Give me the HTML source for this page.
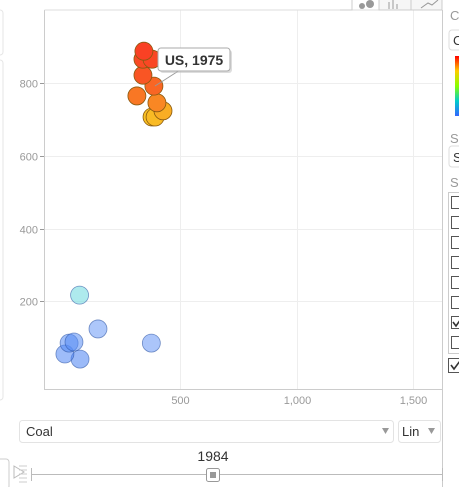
<!DOCTYPE html>
<html><head><meta charset="utf-8">
<style>
html,body{margin:0;padding:0;background:#fff;width:459px;height:487px;overflow:hidden;font-family:"Liberation Sans",Arial,sans-serif;}
svg{position:absolute;left:0;top:0}
</style></head><body>
<svg id="chart" width="459" height="487" xmlns="http://www.w3.org/2000/svg">
  <rect x="-6" y="10" width="9" height="45" rx="3" fill="#fff" stroke="#e6e6e6"/>
  <rect x="-6" y="60" width="9" height="340" rx="3" fill="#fff" stroke="#e6e6e6"/>
  <g id="grid"></g>
  <g id="bubbles"></g>
  <path d="M44.5,10 V389.5 H442" fill="none" stroke="#ccc"/>
  <path d="M44.5,10 H442" fill="none" stroke="#ddd"/>
  <g id="ticks" font-size="11" fill="#999"></g>
  <g>
    <line x1="155" y1="86" x2="180" y2="70" stroke="#999"/>
    <rect x="160" y="50" width="72" height="23" rx="3" fill="#bbb" opacity="0.5"/>
    <rect x="158" y="48" width="72" height="23" rx="3" fill="#fff" stroke="#aaa"/>
    <text x="194" y="65" text-anchor="middle" font-size="14" font-weight="bold" fill="#333">US, 1975</text>
  </g>
  <g>
    <path d="M340,10 H352 V0" fill="none" stroke="#ccc"/>
    <g>
      <circle cx="362" cy="6" r="3" fill="#999"/><circle cx="370" cy="4" r="4" fill="#999"/>
    </g>
    <g>
      <rect x="379" y="-2" width="32" height="12" fill="#f6f6f6" stroke="#ccc"/>
      <path d="M389,9V2 M393,9V0 M397,9V4" stroke="#999"/>
    </g>
    <g>
      <rect x="411" y="-2" width="31" height="12" fill="#f6f6f6" stroke="#ccc"/>
      <path d="M421,8 L428,3 L432,5 L438,0" fill="none" stroke="#999"/>
    </g>
  </g>
  <g>
    <line x1="442.5" y1="10" x2="442.5" y2="487" stroke="#ccc"/>
    <text x="450" y="20" font-size="13" fill="#999">C</text>
    <rect x="449" y="30" width="20" height="20" rx="3" fill="#fff" stroke="#ddd"/>
    <text x="453" y="45" font-size="13" fill="#333">C</text>
    <defs><linearGradient id="cg" x1="0" y1="0" x2="0" y2="1">
      <stop offset="0" stop-color="#f00"/><stop offset="0.25" stop-color="#fc0"/><stop offset="0.5" stop-color="#8f0"/><stop offset="0.75" stop-color="#0cc"/><stop offset="1" stop-color="#36f"/></linearGradient></defs>
    <rect x="455" y="56" width="6" height="60" fill="url(#cg)"/>
    <text x="450" y="143" font-size="13" fill="#999">S</text>
    <rect x="449" y="146" width="20" height="21" rx="3" fill="#fff" stroke="#ddd"/>
    <text x="453" y="162" font-size="13" fill="#333">S</text>
    <text x="450" y="187" font-size="13" fill="#999">S</text>
    <rect x="448.5" y="192.5" width="15" height="161" fill="#fff" stroke="#ccc"/>
    <g id="checks"></g>
    <rect x="448.5" y="358.5" width="14" height="14" fill="#fff" stroke="#555"/>
    <path d="M451,365 l3,4 l6,-8" fill="none" stroke="#333" stroke-width="1.6"/>
  </g>
  <g>
    <rect x="19.5" y="420.5" width="374" height="22" rx="3" fill="#fff" stroke="#e3e3e3"/>
    <text x="26" y="436" font-size="13" fill="#333">Coal</text>
    <path d="M382,428 h7 l-3.5,6z" fill="#999"/>
  </g>
  <g>
    <rect x="398.5" y="420.5" width="42" height="22" rx="3" fill="#fff" stroke="#e3e3e3"/>
    <text x="402" y="436" font-size="13" fill="#333">Lin</text>
    <path d="M428,428 h7 l-3.5,6z" fill="#999"/>
  </g>
  <text x="213" y="461" text-anchor="middle" font-size="14" fill="#333">1984</text>
  <g>
    <rect x="-6" y="459" width="15" height="30" rx="3" fill="#fff" stroke="#ccc"/>
    <path d="M14,466 L24,472 L14,478 Z" fill="none" stroke="#bbb"/>
    <path d="M19,466h8M19,470h8M19,474h8M19,478h8M19,482h8" stroke="#ccc"/>
  </g>
  <g>
    <line x1="31" y1="474.5" x2="442" y2="474.5" stroke="#bbb"/>
    <line x1="31.5" y1="468" x2="31.5" y2="481" stroke="#bbb"/>
    <line x1="442.5" y1="468" x2="442.5" y2="481" stroke="#bbb"/>
    <rect x="206.5" y="468.5" width="13" height="13" rx="2" fill="#fff" stroke="#999"/>
    <path d="M211,472v6M213,472v6M215,472v6" stroke="#333"/>
  </g>
</svg>
<script>
var xVals = [345, 380, 341, 341, 388, 315, 401, 427, 393, 380, 69, 148, 45, 24, 6, 71, 377];
var yVals = [888, 866, 866, 822, 792, 765, 746, 724, 707, 707, 217, 124, 88, 85, 55, 41, 85];
var colorVals = [1.0, 0.95, 0.93, 0.85, 0.72, 0.6, 0.48, 0.2, 0.1, 0.05, -0.3, -0.55, -0.75, -0.8, -0.85, -0.9, -0.6];
var xTicks = [500, 1000, 1500];
var xTickLabels = ["500", "1,000", "1,500"];
var yTicks = [200, 400, 600, 800];
var yTickLabels = ["200", "400", "600", "800"];

var NS = "http://www.w3.org/2000/svg";
function sx(v){ return 63.5 + v * 0.233; }
function sy(v){ return 374 - v * 0.3635; }
function colorOf(c){
  if (c >= 0) {
    var h = 46 - c * 38; return "hsl(" + h + ",95%,56%)";
  } else if (c > -0.4) {
    return "rgba(120,220,225,0.6)";
  }
  var l = 70 - (-c - 0.5) * 20;
  return "hsla(220,88%," + l + "%,0.55)";
}
var grid = document.getElementById("grid");
var ticks = document.getElementById("ticks");
for (var i = 0; i < xTicks.length; i++) {
  var x = Math.round(sx(xTicks[i])) + 0.5;
  var gl = document.createElementNS(NS, "line");
  gl.setAttribute("x1", x); gl.setAttribute("x2", x); gl.setAttribute("y1", 10); gl.setAttribute("y2", 389);
  gl.setAttribute("stroke", "#eee");
  
  
  grid.appendChild(gl);
  var t = document.createElementNS(NS, "text");
  t.setAttribute("x", x); t.setAttribute("y", 404); t.setAttribute("text-anchor", "middle");
  t.textContent = xTickLabels[i];
  
  
  ticks.appendChild(t);
}
for (var j = 0; j < yTicks.length; j++) {
  var y = Math.round(sy(yTicks[j])) + 0.5;
  var gl2 = document.createElementNS(NS, "line");
  gl2.setAttribute("x1", 40); gl2.setAttribute("x2", 442); gl2.setAttribute("y1", y); gl2.setAttribute("y2", y);
  gl2.setAttribute("stroke", "#eee");
  
  
  grid.appendChild(gl2);
  var tk = document.createElementNS(NS, "line");
  tk.setAttribute("x1", 40); tk.setAttribute("x2", 44); tk.setAttribute("y1", y); tk.setAttribute("y2", y);
  tk.setAttribute("stroke", "#999");
  
  
  grid.appendChild(tk);
  var t2 = document.createElementNS(NS, "text");
  t2.setAttribute("x", 38); t2.setAttribute("y", y + 4); t2.setAttribute("text-anchor", "end");
  t2.textContent = yTickLabels[j];
  
  
  ticks.appendChild(t2);
}
var bubbles = document.getElementById("bubbles");
for (var k = xVals.length - 1; k >= 0; k--) {
  var c = document.createElementNS(NS, "circle");
  c.setAttribute("cx", sx(xVals[k])); c.setAttribute("cy", sy(yVals[k])); c.setAttribute("r", 9);
  c.setAttribute("fill", colorOf(colorVals[k]));
  c.setAttribute("stroke", colorVals[k] >= 0 ? "#8a5a10" : "rgba(40,80,160,0.6)");
  c.setAttribute("stroke-width", "0.8");
  
  
  bubbles.appendChild(c);
}
var checks = document.getElementById("checks");
for (var m = 0; m < 8; m++) {
  var r = document.createElementNS(NS, "rect");
  r.setAttribute("x", 451.5); r.setAttribute("y", 196.5 + m * 20); r.setAttribute("width", 12); r.setAttribute("height", 12);
  r.setAttribute("fill", "#fff"); r.setAttribute("stroke", "#555");
  
  
  checks.appendChild(r);
  if (m === 6) {
    var p = document.createElementNS(NS, "path");
    p.setAttribute("d", "M453," + (202 + m * 20) + " l3,4 l5,-7");
    p.setAttribute("fill", "none"); p.setAttribute("stroke", "#333"); p.setAttribute("stroke-width", "1.6");
    
    
    checks.appendChild(p);
  }
}
</script>
</body></html>
